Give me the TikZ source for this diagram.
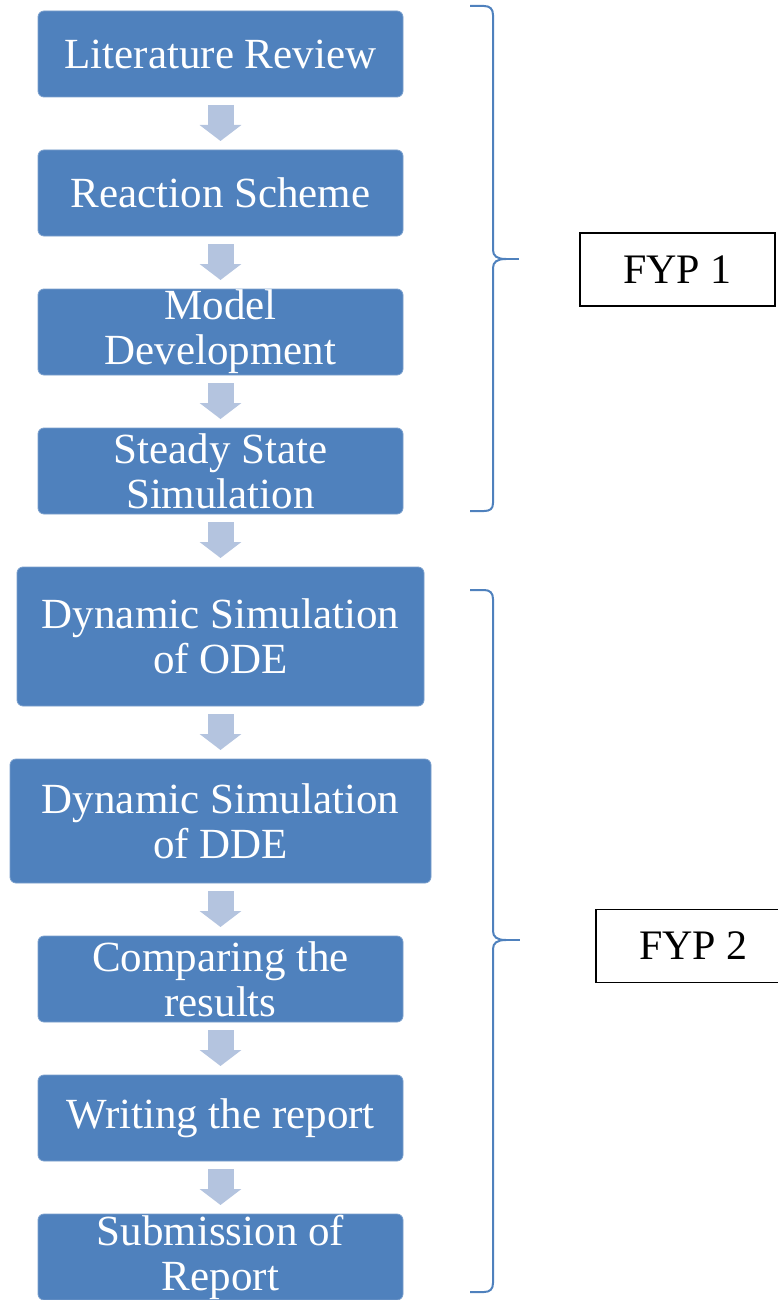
\documentclass[tikz,border=0pt]{standalone}
\usepackage{fontspec}
\setmainfont{Liberation Serif}
\usetikzlibrary{positioning, arrows.meta}
\definecolor{boxblue}{HTML}{4F81BD}
\definecolor{arrowblue}{HTML}{B4C4DF}

\begin{document}
\begin{tikzpicture}[
        x=1pt, y=-1pt,
        node distance=53pt,
        stage/.style={rectangle, rounded corners=6pt, fill=boxblue,
            draw=boxblue!75!white, line width=0.8pt, text=white,
            align=center, inner sep=0pt, outer sep=0pt, minimum width=365pt,
            minimum height=86pt, font=\fontsize{43}{45}\selectfont},
        flow/.style={line width=26pt, arrowblue,
            -{Triangle[width=41pt,length=16pt]},
            shorten <=8pt, shorten >=9pt},
        phase/.style={rectangle, draw=black, line width=1.5pt,
            minimum width=195pt, minimum height=73pt,
            font=\fontsize{42}{44}\selectfont},
        brace/.style={draw=boxblue, line width=2pt}
        ]
            \useasboundingbox (0,0) rectangle (778,1300);

            \node[stage] (LIT) at (220.5,54) {Literature Review};
            \node[stage, below=of LIT] (RXN) {Reaction Scheme};
            \node[stage, below=of RXN] (MOD) {Model\\Development};
            \node[stage, below=of MOD] (SSS) {Steady State\\Simulation};
            \node[stage, below=of SSS, minimum width=407pt,
                minimum height=139pt] (ODE) {Dynamic Simulation\\of ODE};
            \node[stage, below=of ODE, minimum width=421pt,
                minimum height=124pt] (DDE) {Dynamic Simulation\\of DDE};
            \node[stage, below=of DDE] (CMP) {Comparing the\\results};
            \node[stage, below=of CMP] (REP) {Writing the report};
            \node[stage, below=of REP] (SUB) {Submission of\\Report};

            \path[flow]
                (LIT) edge (RXN)
                (RXN) edge (MOD)
                (MOD) edge (SSS)
                (SSS) edge (ODE)
                (ODE) edge (DDE)
                (DDE) edge (CMP)
                (CMP) edge (REP)
                (REP) edge (SUB);

            % braces
            \draw[brace] (470,6) -- (484,6) .. controls (490,6) and (493,9) .. (493,15)
                -- (493,250) .. controls (493,256) and (497,259) .. (506,259)
                .. controls (497,259) and (493,262) .. (493,268)
                -- (493,503) .. controls (493,509) and (490,511) .. (484,511) -- (470,511);
            \draw[brace] (506,259) -- (519,259);
            \draw[brace] (470,590) -- (484,590) .. controls (490,590) and (493,593) .. (493,599)
                -- (493,931) .. controls (493,937) and (497,940) .. (506,940)
                .. controls (497,940) and (493,943) .. (493,949)
                -- (493,1283) .. controls (493,1289) and (490,1292) .. (484,1292) -- (470,1292);
            \draw[brace] (506,940) -- (520,940);

            \node[phase] (FYPA) at (677.5,269.5) {FYP 1};
            \node[phase] (FYPB) at (693.5,946) {FYP 2};
        \end{tikzpicture}
\end{document}
